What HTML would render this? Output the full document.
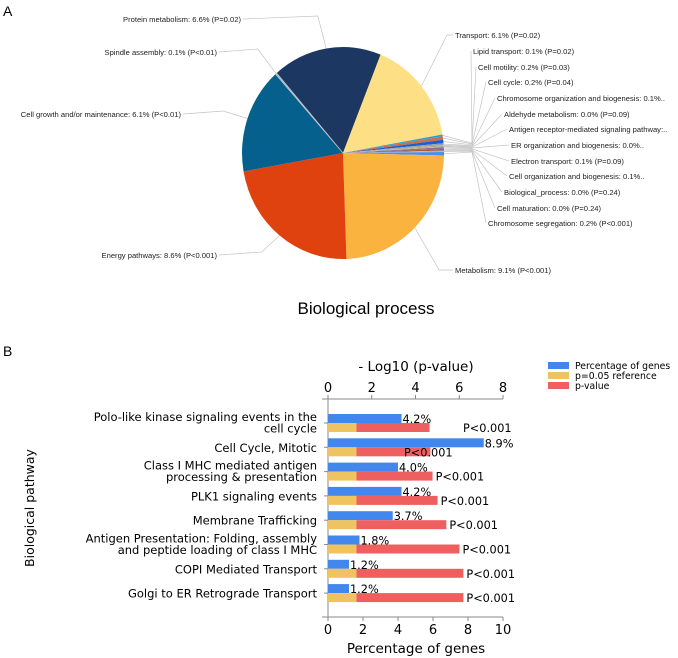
<!DOCTYPE html>
<html><head><meta charset="utf-8"><style>
html,body{margin:0;padding:0;background:#fff;}
svg{display:block;font-family:"Liberation Sans",sans-serif;}
#bars text{font-family:"DejaVu Sans",sans-serif;}
</style></head><body>
<svg id="chart" width="678" height="658" viewBox="0 0 678 658">
<text x="3" y="16" font-size="14">A</text>
<text x="3" y="356" font-size="14">B</text>
<g id="pie"></g>
<text x="366" y="314" font-size="17" text-anchor="middle">Biological process</text>
<g id="bars"></g>
</svg>
<script>
// ---------- Pie data ----------
const pieCategories = ["Protein metabolism","Transport","Lipid transport","Cell motility","Cell cycle","Chromosome organization and biogenesis","Aldehyde metabolism","Antigen receptor-mediated signaling pathway","ER organization and biogenesis","Electron transport","Cell organization and biogenesis","Biological_process","Cell maturation","Chromosome segregation","Metabolism","Energy pathways","Cell growth and/or maintenance","Spindle assembly"];
const pieValues = [6.6,6.1,0.1,0.2,0.2,0.1,0.04,0.04,0.04,0.1,0.1,0.04,0.04,0.2,9.1,8.6,6.1,0.1];
const pieLabels = ["Protein metabolism: 6.6% (P=0.02)","Transport: 6.1% (P=0.02)","Lipid transport: 0.1% (P=0.02)","Cell motility: 0.2% (P=0.03)","Cell cycle: 0.2% (P=0.04)","Chromosome organization and biogenesis: 0.1%..","Aldehyde metabolism: 0.0% (P=0.09)","Antigen receptor-mediated signaling pathway:..","ER organization and biogenesis: 0.0%..","Electron transport: 0.1% (P=0.09)","Cell organization and biogenesis: 0.1%..","Biological_process: 0.0% (P=0.24)","Cell maturation: 0.0% (P=0.24)","Chromosome segregation: 0.2% (P<0.001)","Metabolism: 9.1% (P<0.001)","Energy pathways: 8.6% (P<0.001)","Cell growth and/or maintenance: 6.1% (P<0.01)","Spindle assembly: 0.1% (P<0.01)"];
const pieColors = ["#1d3763","#fde086","#1aa3dc","#c8704e","#1a5fd8","#9aa0a8","#e6a15a","#6f8fb0","#d9c27a","#8a6f9e","#b05a3a","#7fa6d6","#c0c0c0","#4a90e8","#fbb33f","#e0420f","#06608e","#a9b4c0"];
// label layout: [anchor x, y, side]
const labelPos = [[241,22,-1],[455,38,1],[473,54,1],[478,70,1],[488,85,1],[497,101,1],[504,117,1],[509,132,1],[511,148,1],[511,164,1],[509,179,1],[504,195,1],[497,211,1],[488,226,1],[455,273,1],[217,258,-1],[181,117,-1],[217,55,-1]];
const NS="http://www.w3.org/2000/svg";
function mk(tag,attrs,parent){const e=document.createElementNS(NS,tag);for(const k in attrs)e.setAttribute(k,attrs[k]);parent.appendChild(e);return e;}
const pieG=document.getElementById('pie');
const cx=343,cy=153,rx=101,ry=106;
const total=pieValues.reduce((a,b)=>a+b,0);
let ang=-41*Math.PI/180;
const pt=(a,s)=>[cx+rx*s*Math.sin(a),cy-ry*s*Math.cos(a)];
pieValues.forEach((v,i)=>{
  const a0=ang,a1=ang+v/total*2*Math.PI;ang=a1;
  const p0=pt(a0,1),p1=pt(a1,1);const large=(a1-a0)>Math.PI?1:0;
  const s=mk('path',{d:`M${cx},${cy}L${p0[0]},${p0[1]}A${rx},${ry} 0 ${large} 1 ${p1[0]},${p1[1]}Z`,fill:pieColors[i],stroke:i==17?'#c8ccd2':'none','stroke-width':0.6},pieG);
  
  
  const am=(a0+a1)/2;const e=pt(am,1);const e2=pt(am,1.2);
  const lp=labelPos[i];
  let d;
  if(i>=2&&i<=13){d=`M${e[0]},${e[1]}L472,${148+(i-8)*0.8}L${lp[0]-2},${lp[1]-3}`;}
  else if(lp[2]>0){d=`M${e[0]},${e[1]}L${e2[0]+10},${lp[1]-3}L${lp[0]-2},${lp[1]-3}`;}
  else {d=`M${e[0]},${e[1]}L${e2[0]-5},${lp[1]-6}L${lp[0]+2},${lp[1]-3}`;}
  const l=mk('path',{d:d,fill:'none',stroke:'#c4c4c4','stroke-width':0.7},pieG);
  
  
  const t=mk('text',{x:lp[0],y:lp[1],'font-size':7.6,'text-anchor':lp[2]>0?'start':'end',fill:'#222'},pieG);
  t.textContent=pieLabels[i];
  
  
});

// ---------- Bar data ----------
const barCategories = [["Polo-like kinase signaling events in the","cell cycle"],["Cell Cycle, Mitotic"],["Class I MHC mediated antigen","processing & presentation"],["PLK1 signaling events"],["Membrane Trafficking"],["Antigen Presentation: Folding, assembly","and peptide loading of class I MHC"],["COPI Mediated Transport"],["Golgi to ER Retrograde Transport"]];
const percentGenes = [4.2,8.9,4.0,4.2,3.7,1.8,1.2,1.2];
const percentLabels = ["4.2%","8.9%","4.0%","4.2%","3.7%","1.8%","1.2%","1.2%"];
const refLog = [1.3,1.3,1.3,1.3,1.3,1.3,1.3,1.3];
const logP = [4.64,4.68,4.78,5.01,5.41,6.01,6.19,6.19];
const pLabels = ["P<0.001","P<0.001","P<0.001","P<0.001","P<0.001","P<0.001","P<0.001","P<0.001"];
const bottomTicks = [0,2,4,6,8,10];
const topTicks = [0,2,4,6,8];
const bg=document.getElementById('bars');
const X0=328,X1=503;
const xPct=v=>X0+(X1-X0)*v/10;
const xLog=v=>X0+(X1-X0)*v/8;
const rowTop=i=>414+i*24.3;
const BH=9;
// axes
let ax=mk('line',{x1:X0,y1:396,x2:X0,y2:617,stroke:'#888','stroke-width':1},bg);

ax=mk('line',{x1:322,y1:617,x2:X1,y2:617,stroke:'#888','stroke-width':1},bg);

ax=mk('line',{x1:322,y1:399,x2:X1,y2:399,stroke:'#888','stroke-width':1},bg);

bottomTicks.forEach(v=>{
  const tk=mk('line',{x1:xPct(v),y1:617,x2:xPct(v),y2:621,stroke:'#888'},bg);
  
  const t=mk('text',{x:xPct(v),y:634,'font-size':13,'text-anchor':'middle'},bg);t.textContent=v;
  
});
topTicks.forEach(v=>{
  const tk=mk('line',{x1:xLog(v),y1:395,x2:xLog(v),y2:399,stroke:'#888'},bg);
  
  const t=mk('text',{x:xLog(v),y:392,'font-size':13,'text-anchor':'middle'},bg);t.textContent=v;
  
});
let tt=mk('text',{x:416,y:371,'font-size':13.5,'text-anchor':'middle'},bg);tt.textContent='- Log10 (p-value)';

tt=mk('text',{x:416,y:653,'font-size':13.5,'text-anchor':'middle'},bg);tt.textContent='Percentage of genes';

tt=mk('text',{x:0,y:0,'font-size':12.5,'text-anchor':'middle',transform:'translate(34,508) rotate(-90)'},bg);tt.textContent='Biological pathway';

percentGenes.forEach((v,i)=>{
  const y=rowTop(i);
  let r=mk('rect',{x:X0,y:y,width:xPct(v)-X0,height:BH,fill:'#4287ee'},bg);
  
  r=mk('rect',{x:X0,y:y+BH,width:xLog(refLog[i])-X0,height:BH,fill:'#efc460'},bg);
  
  r=mk('rect',{x:xLog(refLog[i]),y:y+BH,width:Math.max(0,xLog(logP[i])-xLog(refLog[i])),height:BH,fill:'#ee5f5f'},bg);
  
  let t=mk('text',{x:xPct(v)+1,y:y+9,'font-size':11.3},bg);t.textContent=percentLabels[i];
  
  let px=xLog(logP[i])+3;
  if(i===0)px=463; if(i===1)px=404;
  t=mk('text',{x:px,y:y+18,'font-size':11.3},bg);t.textContent=pLabels[i];
  
  const tk=mk('line',{x1:X0-4,y1:y+BH,x2:X0,y2:y+BH,stroke:'#888'},bg);
  
  const lines=barCategories[i];
  lines.forEach((ln,j)=>{
    const ly=lines.length===1?y+BH+4.5:y+BH-2+j*11.5;
    const c=mk('text',{x:317,y:ly,'font-size':11.5,'text-anchor':'end'},bg);c.textContent=ln;
    
  });
});
// legend
const legNames=["Percentage of genes","p=0.05 reference","p-value"];
const legCols=["#4287ee","#efc460","#ee5f5f"];
legNames.forEach((n,i)=>{
  const y=362+i*10;
  const r=mk('rect',{x:548,y:y,width:21,height:7,fill:legCols[i]},bg);
  
  const t=mk('text',{x:575,y:y+7,'font-size':9.3},bg);t.textContent=n;
  
});
</script>
</body></html>
